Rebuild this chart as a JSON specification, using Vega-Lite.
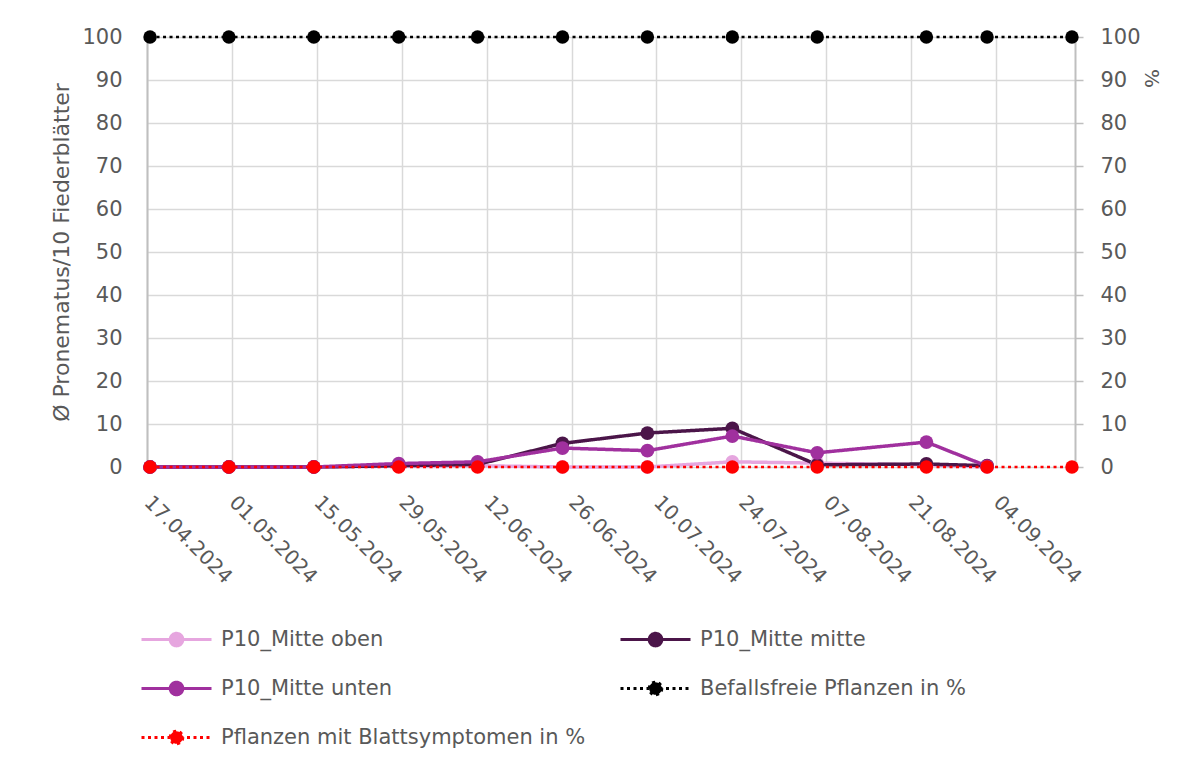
{
  "$schema": "https://vega.github.io/schema/vega-lite/v6.json",
  "width": 928,
  "height": 430,
  "autosize": {"type": "none"},
  "padding": {"left": 147, "top": 37, "right": 127, "bottom": 302},
  "background": "white",
  "config": {
    "font": "DejaVu Sans",
    "view": {"stroke": null},
    "axis": {"labelFont": "DejaVu Sans", "titleFont": "DejaVu Sans", "labelColor": "#595959", "titleColor": "#595959", "labelFontSize": 21, "titleFontWeight": "normal"},
    "legend": {"labelFont": "DejaVu Sans"}
  },
  "data": {
    "values": [
      {"date": "2024-04-17T12:00:00Z", "series": "P10_Mitte oben", "value": 0},
      {"date": "2024-04-30T12:00:00Z", "series": "P10_Mitte oben", "value": 0},
      {"date": "2024-05-14T12:00:00Z", "series": "P10_Mitte oben", "value": 0},
      {"date": "2024-05-28T12:00:00Z", "series": "P10_Mitte oben", "value": 0.2},
      {"date": "2024-06-10T12:00:00Z", "series": "P10_Mitte oben", "value": 0.3},
      {"date": "2024-06-24T12:00:00Z", "series": "P10_Mitte oben", "value": 0},
      {"date": "2024-07-08T12:00:00Z", "series": "P10_Mitte oben", "value": 0},
      {"date": "2024-07-22T12:00:00Z", "series": "P10_Mitte oben", "value": 1.2},
      {"date": "2024-08-05T12:00:00Z", "series": "P10_Mitte oben", "value": 0.9},
      {"date": "2024-08-23T12:00:00Z", "series": "P10_Mitte oben", "value": 0.5},
      {"date": "2024-09-02T12:00:00Z", "series": "P10_Mitte oben", "value": 0},

      {"date": "2024-04-17T12:00:00Z", "series": "P10_Mitte mitte", "value": 0},
      {"date": "2024-04-30T12:00:00Z", "series": "P10_Mitte mitte", "value": 0},
      {"date": "2024-05-14T12:00:00Z", "series": "P10_Mitte mitte", "value": 0},
      {"date": "2024-05-28T12:00:00Z", "series": "P10_Mitte mitte", "value": 0.3},
      {"date": "2024-06-10T12:00:00Z", "series": "P10_Mitte mitte", "value": 0.6},
      {"date": "2024-06-24T12:00:00Z", "series": "P10_Mitte mitte", "value": 5.5},
      {"date": "2024-07-08T12:00:00Z", "series": "P10_Mitte mitte", "value": 7.9},
      {"date": "2024-07-22T12:00:00Z", "series": "P10_Mitte mitte", "value": 9.0},
      {"date": "2024-08-05T12:00:00Z", "series": "P10_Mitte mitte", "value": 0.5},
      {"date": "2024-08-23T12:00:00Z", "series": "P10_Mitte mitte", "value": 0.7},
      {"date": "2024-09-02T12:00:00Z", "series": "P10_Mitte mitte", "value": 0.3},

      {"date": "2024-04-17T12:00:00Z", "series": "P10_Mitte unten", "value": 0},
      {"date": "2024-04-30T12:00:00Z", "series": "P10_Mitte unten", "value": 0},
      {"date": "2024-05-14T12:00:00Z", "series": "P10_Mitte unten", "value": 0},
      {"date": "2024-05-28T12:00:00Z", "series": "P10_Mitte unten", "value": 0.8},
      {"date": "2024-06-10T12:00:00Z", "series": "P10_Mitte unten", "value": 1.2},
      {"date": "2024-06-24T12:00:00Z", "series": "P10_Mitte unten", "value": 4.4},
      {"date": "2024-07-08T12:00:00Z", "series": "P10_Mitte unten", "value": 3.8},
      {"date": "2024-07-22T12:00:00Z", "series": "P10_Mitte unten", "value": 7.2},
      {"date": "2024-08-05T12:00:00Z", "series": "P10_Mitte unten", "value": 3.3},
      {"date": "2024-08-23T12:00:00Z", "series": "P10_Mitte unten", "value": 5.8},
      {"date": "2024-09-02T12:00:00Z", "series": "P10_Mitte unten", "value": 0.2},

      {"date": "2024-04-17T12:00:00Z", "series": "Befallsfreie Pflanzen in %", "value": 100},
      {"date": "2024-04-30T12:00:00Z", "series": "Befallsfreie Pflanzen in %", "value": 100},
      {"date": "2024-05-14T12:00:00Z", "series": "Befallsfreie Pflanzen in %", "value": 100},
      {"date": "2024-05-28T12:00:00Z", "series": "Befallsfreie Pflanzen in %", "value": 100},
      {"date": "2024-06-10T12:00:00Z", "series": "Befallsfreie Pflanzen in %", "value": 100},
      {"date": "2024-06-24T12:00:00Z", "series": "Befallsfreie Pflanzen in %", "value": 100},
      {"date": "2024-07-08T12:00:00Z", "series": "Befallsfreie Pflanzen in %", "value": 100},
      {"date": "2024-07-22T12:00:00Z", "series": "Befallsfreie Pflanzen in %", "value": 100},
      {"date": "2024-08-05T12:00:00Z", "series": "Befallsfreie Pflanzen in %", "value": 100},
      {"date": "2024-08-23T12:00:00Z", "series": "Befallsfreie Pflanzen in %", "value": 100},
      {"date": "2024-09-02T12:00:00Z", "series": "Befallsfreie Pflanzen in %", "value": 100},
      {"date": "2024-09-16T12:00:00Z", "series": "Befallsfreie Pflanzen in %", "value": 100},

      {"date": "2024-04-17T12:00:00Z", "series": "Pflanzen mit Blattsymptomen in %", "value": 0},
      {"date": "2024-04-30T12:00:00Z", "series": "Pflanzen mit Blattsymptomen in %", "value": 0},
      {"date": "2024-05-14T12:00:00Z", "series": "Pflanzen mit Blattsymptomen in %", "value": 0},
      {"date": "2024-05-28T12:00:00Z", "series": "Pflanzen mit Blattsymptomen in %", "value": 0},
      {"date": "2024-06-10T12:00:00Z", "series": "Pflanzen mit Blattsymptomen in %", "value": 0},
      {"date": "2024-06-24T12:00:00Z", "series": "Pflanzen mit Blattsymptomen in %", "value": 0},
      {"date": "2024-07-08T12:00:00Z", "series": "Pflanzen mit Blattsymptomen in %", "value": 0},
      {"date": "2024-07-22T12:00:00Z", "series": "Pflanzen mit Blattsymptomen in %", "value": 0},
      {"date": "2024-08-05T12:00:00Z", "series": "Pflanzen mit Blattsymptomen in %", "value": 0},
      {"date": "2024-08-23T12:00:00Z", "series": "Pflanzen mit Blattsymptomen in %", "value": 0},
      {"date": "2024-09-02T12:00:00Z", "series": "Pflanzen mit Blattsymptomen in %", "value": 0},
      {"date": "2024-09-16T12:00:00Z", "series": "Pflanzen mit Blattsymptomen in %", "value": 0}
    ]
  },
  "encoding": {
    "x": {
      "field": "date",
      "type": "temporal",
      "scale": {"type": "utc", "domain": [{"year": 2024, "month": 4, "date": 17, "utc": true}, {"year": 2024, "month": 9, "date": 17, "utc": true}]},
      "axis": {
        "title": null,
        "values": [
          {"year": 2024, "month": 4, "date": 17, "utc": true},
          {"year": 2024, "month": 5, "date": 1, "utc": true},
          {"year": 2024, "month": 5, "date": 15, "utc": true},
          {"year": 2024, "month": 5, "date": 29, "utc": true},
          {"year": 2024, "month": 6, "date": 12, "utc": true},
          {"year": 2024, "month": 6, "date": 26, "utc": true},
          {"year": 2024, "month": 7, "date": 10, "utc": true},
          {"year": 2024, "month": 7, "date": 24, "utc": true},
          {"year": 2024, "month": 8, "date": 7, "utc": true},
          {"year": 2024, "month": 8, "date": 21, "utc": true},
          {"year": 2024, "month": 9, "date": 4, "utc": true}
        ],
        "format": "%d.%m.%Y",
        "labelAngle": 45,
        "labelAlign": "left",
        "labelBaseline": "middle",
        "labelPadding": 32,
        "labelFontSize": 20,
        "labelOverlap": false,
        "domain": false,
        "ticks": false,
        "grid": true,
        "gridColor": "#d9d9d9",
        "gridWidth": 1.5
      }
    },
    "color": {
      "field": "series",
      "type": "nominal",
      "scale": {
        "domain": ["P10_Mitte oben", "P10_Mitte mitte", "P10_Mitte unten", "Befallsfreie Pflanzen in %", "Pflanzen mit Blattsymptomen in %"],
        "range": ["#e6a6df", "#4b1549", "#a0309e", "#000000", "#ff0000"]
      },
      "legend": {
        "title": null,
        "orient": "none",
        "direction": "horizontal",
        "legendX": -7,
        "legendY": 566,
        "columns": 2,
        "columnPadding": 28,
        "rowPadding": -20,
        "symbolType": "M-1,0L1,0M-0.18,0A0.18,0.18,0,1,1,0.18,0A0.18,0.18,0,1,1,-0.18,0Z",
        "symbolSize": 4900,
        "symbolStrokeWidth": 3,
        "labelFontSize": 21,
        "labelColor": "#595959",
        "labelOffset": 8,
        "labelLimit": 600,
        "padding": 0,
        "encode": {"symbols": {"update": {"fill": {"scale": "color", "field": "value"}}}}
      }
    },
    "strokeDash": {
      "field": "series",
      "type": "nominal",
      "scale": {
        "domain": ["P10_Mitte oben", "P10_Mitte mitte", "P10_Mitte unten", "Befallsfreie Pflanzen in %", "Pflanzen mit Blattsymptomen in %"],
        "range": [[1, 0], [1, 0], [1, 0], [3, 3.5], [3, 3.5]]
      },
      "legend": null
    }
  },
  "layer": [
    {
      "transform": [{"filter": "indexof(['P10_Mitte oben','P10_Mitte mitte','P10_Mitte unten'], datum.series) >= 0"}],
      "mark": {"type": "line", "strokeWidth": 3.5, "point": {"filled": true, "size": 190}},
      "encoding": {
        "y": {
          "field": "value",
          "type": "quantitative",
          "scale": {"domain": [0, 100]},
          "axis": {
            "title": "Ø Pronematus/10 Fiederblätter",
            "titleFontSize": 22,
            "titlePadding": 8,
            "values": [0, 10, 20, 30, 40, 50, 60, 70, 80, 90, 100],
            "grid": true,
            "gridColor": "#d9d9d9",
            "gridWidth": 1.5,
            "domainColor": "#bfbfbf",
            "domainWidth": 2,
            "ticks": false,
            "tickSize": 0,
            "labelPadding": 25
          }
        }
      }
    },
    {
      "transform": [{"filter": "indexof(['Befallsfreie Pflanzen in %','Pflanzen mit Blattsymptomen in %'], datum.series) >= 0"}],
      "mark": {"type": "line", "strokeWidth": 2.5, "point": {"filled": true, "size": 180}},
      "encoding": {
        "y": {
          "field": "value",
          "type": "quantitative",
          "scale": {"domain": [0, 100]},
          "axis": {
            "orient": "right",
            "title": "%",
            "titleFontSize": 20,
            "titleAngle": 90,
            "titleX": 75,
            "titleY": 41,
            "titleAlign": "center",
            "titleBaseline": "middle",
            "values": [0, 10, 20, 30, 40, 50, 60, 70, 80, 90, 100],
            "grid": false,
            "domainColor": "#bfbfbf",
            "domainWidth": 2,
            "ticks": true,
            "tickSize": 8,
            "tickColor": "#bfbfbf",
            "tickWidth": 1.5,
            "labelPadding": 17
          }
        }
      }
    }
  ],
  "resolve": {"scale": {"y": "independent"}}
}
